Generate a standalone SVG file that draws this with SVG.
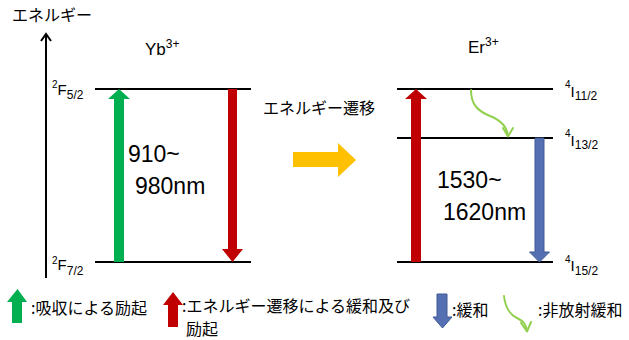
<svg xmlns="http://www.w3.org/2000/svg" width="629" height="340" viewBox="0 0 629 340">
<style>
.lat{font-family:"Liberation Sans",Arial,sans-serif;fill:#000}
.jp{font-family:"Noto Sans CJK JP","Noto Sans",sans-serif;font-size:16px;fill:#000}
.lvl{stroke:#000;stroke-width:2;fill:none}
.grn{fill:#00B050}
.red{fill:#C00000}
.blu{fill:#5470B2;stroke:#3F5A96;stroke-width:1}
.nr{fill:none;stroke:#92D050;stroke-width:2;stroke-linecap:round;stroke-linejoin:round}
</style>
<rect width="629" height="340" fill="#fff"/>
<g id="axis">
  <line x1="46" y1="278" x2="46" y2="34" class="lvl"/>
  <polyline points="41,41 46,34 51,41" class="lvl"/>
  <text x="12" y="21" class="jp">エネルギー</text>
</g>
<g id="yb">
  <text x="145" y="55" class="lat" font-size="17">Yb<tspan font-size="12" y="48">3+</tspan></text>
  <line x1="95" y1="89" x2="251" y2="89" class="lvl" id="yb-top"/>
  <line x1="95" y1="262" x2="251" y2="262" class="lvl" id="yb-bottom"/>
  <text x="52" class="lat"><tspan y="88" font-size="10">2</tspan><tspan y="95" font-size="15">F</tspan><tspan y="99" font-size="12">5/2</tspan></text>
  <text x="52" class="lat"><tspan y="264" font-size="10">2</tspan><tspan y="270" font-size="15">F</tspan><tspan y="275" font-size="12">7/2</tspan></text>
</g>
<g id="er">
  <text x="468" y="53" class="lat" font-size="17">Er<tspan font-size="12" y="46">3+</tspan></text>
  <line x1="397" y1="89" x2="553" y2="89" class="lvl"/>
  <line x1="397" y1="138" x2="553" y2="138" class="lvl"/>
  <line x1="397" y1="262" x2="553" y2="262" class="lvl"/>
  <text x="565" class="lat"><tspan y="88" font-size="10">4</tspan><tspan y="97" font-size="15">I</tspan><tspan y="100" font-size="12">11/2</tspan></text>
  <text x="565" class="lat"><tspan y="137" font-size="10">4</tspan><tspan y="146" font-size="15">I</tspan><tspan y="149" font-size="12">13/2</tspan></text>
  <text x="565" class="lat"><tspan y="263" font-size="10">4</tspan><tspan y="271" font-size="15">I</tspan><tspan y="275" font-size="12">15/2</tspan></text>
</g>
<g id="connectors">
  <polygon class="grn" points="114,262 124,262 124,99 130,99 119,89 108,99 114,99"/>
  <polygon class="red" points="228,89 237,89 237,249 243,249 232.5,262 222,249 228,249"/>
  <polygon class="red" points="411,262 421,262 421,99 427,99 416,89 405,99 411,99"/>
  <polygon class="blu" points="535,138 544,138 544,252 549.5,252 539.5,262 529.5,252 535,252"/>
  <path class="nr" d="M471,90 C471,105 478,111 490,116 C500,120 507,126 508,136"/>
  <polyline class="nr" points="503,128 508,136.5 513,128"/>
  <polygon fill="#FFC000" points="293,152 338,152 338,143 356,160 338,177 338,167 293,167"/>
</g>
<g id="labels">
  <text x="128" y="162" class="lat" font-size="23">910~</text>
  <text x="135" y="194" class="lat" font-size="23">980nm</text>
  <text x="437" y="188" class="lat" font-size="23">1530~</text>
  <text x="443" y="220" class="lat" font-size="23">1620nm</text>
  <text x="263" y="114" class="jp" font-size="16.5">エネルギー遷移</text>
</g>
<g id="legend">
  <polygon class="grn" points="12,323 22,323 22,302 27,302 17.5,289 7,302 12,302"/>
  <text x="31" y="314" class="jp">:吸収による励起</text>
  <polygon class="red" points="168,327 178,327 178,305 183,305 173,292 163,305 168,305"/>
  <text x="182" y="312" class="jp" font-size="15.7">:エネルギー遷移による緩和及び</text>
  <text x="186" y="335" class="jp" font-size="15.7">励起</text>
  <polygon class="blu" points="437,294 447,294 447,317 452,317 442.5,328 433,317 437,317"/>
  <text x="452" y="316" class="jp">:緩和</text>
  <path class="nr" d="M504,296 C505,306 509,314 517,318 C523,321 526,324 527,331"/>
  <polyline class="nr" points="521,323 527,331.5 531,322"/>
  <text x="538" y="316" class="jp">:非放射緩和</text>
</g>
</svg>
